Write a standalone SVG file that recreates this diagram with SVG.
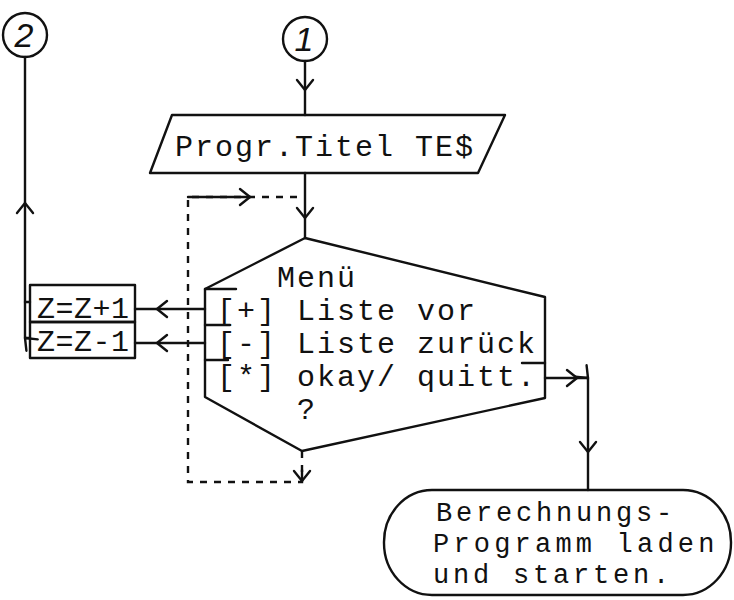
<svg xmlns="http://www.w3.org/2000/svg" width="734" height="600" viewBox="0 0 734 600">
<style>
.s{fill:none;stroke:#111;stroke-width:2.4;stroke-linejoin:round;stroke-linecap:round}
.d{fill:none;stroke:#111;stroke-width:2.4;stroke-dasharray:7 7}
.t{font-family:"Liberation Mono","DejaVu Sans Mono",monospace;font-size:30px;letter-spacing:2px;fill:#111}
.n{font-family:"Liberation Sans",sans-serif;font-style:italic;font-size:34px;fill:#111;text-anchor:middle}
</style>
<defs>
<marker id="ch" markerUnits="userSpaceOnUse" markerWidth="24" markerHeight="24" viewBox="-12 -12 24 24" refX="0" refY="0" orient="auto" overflow="visible">
<path d="M-10,-8 L0,0 L-10,8" fill="none" stroke="#111" stroke-width="2.4" stroke-linecap="round" stroke-linejoin="round"/>
</marker>
</defs>
<rect width="734" height="600" fill="#fff"/>
<g id="connectors">
<path class="s" d="M305,61 L305,90 L305,115" marker-mid="url(#ch)"/>
<path class="s" d="M305,173 L305,218 L305,238" marker-mid="url(#ch)"/>
<path class="d" d="M302,451 L302,482 L188,482 L188,197 L305,197"/>
<path class="s" d="M188,197 L250,197" stroke="none" marker-end="url(#ch)"/>
<path class="s" d="M302,470 L302,481" stroke="none" marker-end="url(#ch)"/>
<path class="s" d="M205,309 L157,309 L135,309" marker-mid="url(#ch)"/>
<path class="s" d="M205,343 L157,343 L135,343" marker-mid="url(#ch)"/>
<path class="s" d="M30,338 L25,338 L25,203 L25,57" marker-mid="url(#ch)"/>
<path class="s" d="M25,302 L30,302"/>
<path class="s" d="M545,378 L577,378 L588,378 L588,452 L588,490" marker-mid="url(#ch)"/>
</g>
<g id="c2"><circle class="s" cx="25" cy="35" r="22"/><text class="n" x="24" y="47">2</text></g>
<g id="c1"><circle class="s" cx="305" cy="39" r="22"/><text class="n" x="304" y="51">1</text></g>
<g id="title"><path class="s" d="M172,115 L505,115 L478,173 L150,173 Z"/><text class="t" x="175" y="156">Progr.Titel TE$</text></g>
<g id="menu">
<path class="s" d="M305,238 L545,297 L545,398 L302,451 L205,397 L205,289 Z"/>
<path class="s" d="M205,289 L236,289 M205,325 L230,325 M205,360 L228,360 M522,363 L545,363"/>
<text class="t" x="277" y="287">Menü</text>
<text class="t" x="217" y="320">[+] Liste vor</text>
<text class="t" x="217" y="353">[-] Liste zurück</text>
<text class="t" x="217" y="386">[*] okay/ quitt.</text>
<text class="t" x="297" y="419">?</text>
</g>
<g id="zplus"><rect class="s" x="30" y="285" width="105" height="37"/><text class="t" x="37" y="318" style="letter-spacing:0.5px">Z=Z+1</text></g>
<g id="zminus"><rect class="s" x="30" y="322" width="105" height="36"/><text class="t" x="37" y="351" style="letter-spacing:0.5px">Z=Z-1</text></g>
<g id="end">
<rect class="s" x="384" y="490" width="347" height="105" rx="48" ry="52"/>
<text class="t" x="436" y="521" style="font-size:27px;letter-spacing:3.8px">Berechnungs-</text>
<text class="t" x="433" y="552" style="font-size:27px;letter-spacing:4.2px">Programm laden</text>
<text class="t" x="433" y="583" style="font-size:27px;letter-spacing:3.8px">und starten.</text>
</g>
</svg>
